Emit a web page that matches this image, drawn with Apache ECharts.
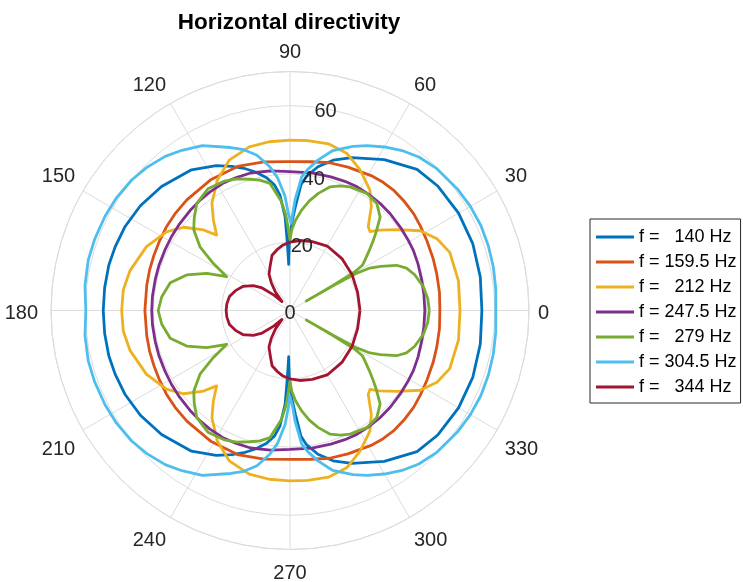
<!DOCTYPE html>
<html>
<head>
<meta charset="utf-8">
<script src="https://cdn.jsdelivr.net/npm/echarts@6/dist/echarts.min.js"></script>
<style>
  html, body { margin: 0; padding: 0; background: #fff; }
  #chart { width: 743px; height: 582px; }
</style>
</head>
<body>
<div id="chart"></div>
<script>
// Legend entries, one per frequency
const seriesNames = ['f =   140 Hz', 'f = 159.5 Hz', 'f =   212 Hz', 'f = 247.5 Hz',
                     'f =   279 Hz', 'f = 304.5 Hz', 'f =   344 Hz'];

// Radial ticks (level) and angular tick step (degrees)
const radialTicks = [0, 20, 40, 60];
const radialMax = 70;
const angleStep = 30;

// Directivity over the upper half plane (0..180 deg); the pattern is
// symmetric about the 0-180 axis, so the lower half reuses these values.
const ang140 = [0, 10, 20, 30, 40, 48, 58, 68, 74, 79, 83, 85, 87, 88.5, 89.5, 90.5, 91.2, 91.6, 92, 92.5, 93, 95, 97, 100, 104, 108, 112, 117, 125, 136, 145, 153, 160, 166, 173, 180];
const rad140 = [56.2, 56.6, 57, 57, 56.6, 55.6, 52.1, 48.3, 45.8, 42.9, 39.6, 37, 30.5, 26.5, 23, 20, 16, 13.5, 17, 22, 27.5, 34, 37, 39.5, 41.8, 43.8, 45.5, 47.6, 50.3, 52.3, 53.5, 54.2, 54.5, 54.7, 54.7, 54.7];

const ang159 = [0, 7, 14, 20, 27, 33, 38, 44, 49, 54, 59, 68, 75, 82, 90, 100, 110, 121, 133, 140, 146, 152, 158, 164, 170, 180];
const rad159 = [43.9, 44.1, 44.3, 44.6, 45, 45.5, 46, 46.3, 46.5, 46.4, 46.1, 45.3, 44.8, 44, 43.6, 44.2, 44.9, 44.8, 44.3, 44, 43.7, 43.3, 43, 42.8, 42.6, 42.5];

const ang212 = [0, 10, 20, 26, 31.5, 37, 42, 44.6, 47, 52, 56.5, 63.5, 70, 77, 84, 90, 97, 104, 112, 119, 126, 130.3, 134.2, 137, 142, 147.5, 156, 166, 173, 180];
const rad212 = [49.8, 50.1, 49.8, 47.9, 44.7, 39.4, 35.2, 32.9, 33.6, 38.7, 42.4, 46, 48.9, 50.1, 50, 49.9, 49.8, 49.4, 47.5, 43.8, 38.9, 34.7, 30.8, 34.6, 39.6, 42.9, 46, 48.3, 49.2, 49.3];

const ang247 = [0, 7, 13, 20, 26, 31, 37, 44, 50, 56, 62, 67, 73, 81, 90, 98, 106, 112, 118, 124, 129, 135, 142, 148, 154, 161, 167, 174, 180];
const rad247 = [39.5, 39.5, 39.6, 39.9, 40.2, 40.3, 40.5, 40.8, 41, 41.1, 41.2, 41.1, 40.9, 40.8, 40.7, 41.3, 41.9, 42, 42.1, 41.9, 41.7, 41.4, 41.1, 40.9, 40.7, 40.6, 40.5, 40.5, 40.5];

const ang279 = [0, 5, 10, 16, 20, 23, 26, 28, 29.3, 29.8, 30.1, 30.4, 30.8, 32, 34, 37, 40, 42, 46, 51, 56.8, 64, 68, 72, 76.4, 80, 83.4, 86.5, 88.8, 90, 91.2, 92.5, 94.5, 99, 103, 107, 112, 117, 124, 131, 136, 140, 144.7, 148.4, 151.9, 155.9, 161, 167, 174, 180];
const rad279 = [40.8, 40.5, 39.7, 38, 36.3, 33.9, 29.5, 26.5, 22, 15, 5.5, 15, 22, 25, 26.5, 29, 31.8, 33.8, 38, 40.4, 41, 40.3, 39.4, 38.1, 35.3, 32.6, 29.6, 26.5, 23.6, 20.7, 24, 28, 32, 37.7, 39.2, 40.2, 41.6, 42.5, 43, 41.6, 39, 36.8, 32.3, 26.4, 21, 26.7, 32, 36, 37.8, 38.6];

const ang304 = [0, 6, 12, 18, 24, 30, 36, 44, 50, 55, 60, 65, 69, 75, 79.5, 83, 85, 87.4, 88.5, 89.3, 90.2, 91, 92.5, 95.3, 98, 102, 106, 110, 118, 124, 129, 135, 140.5, 147, 153, 160, 166, 173, 180];
const rad304 = [60.3, 60.6, 60.9, 61.1, 61.2, 61, 60.6, 59.8, 58.7, 57.2, 55.3, 53.3, 51.5, 48.5, 44.8, 41.5, 39.3, 32.4, 28, 25.5, 25, 28.5, 33.5, 39, 42.5, 46.5, 49, 50.8, 54.7, 56.6, 58.1, 59.3, 60.1, 60.6, 60.8, 60.9, 60.9, 60.5, 59.8];

const ang344 = [0, 15, 30, 45, 60, 72, 82, 90, 96, 102, 108, 114, 120, 124, 128, 132, 136, 141, 146, 153, 160, 167, 174, 180];
const rad344 = [20.5, 20.5, 21, 21.5, 21.8, 21.2, 20.7, 20, 19.3, 18.2, 17, 14.3, 12.3, 9.8, 7, 3.5, 6.5, 10.5, 13, 15.5, 17, 18.2, 18.6, 18.7];

const seriesColors = ['#0072BD', '#D95319', '#EDB120', '#7E2F8E', '#77AC30', '#4DBEEE', '#A2142F'];

// Turn a half-plane pattern into a closed [radius, angle] loop (0 -> 360 deg)
function closedLoop(angles, radii) {
  const pts = angles.map((a, i) => [radii[i], a]);
  for (let i = angles.length - 2; i >= 0; i--) {
    pts.push([radii[i], 360 - angles[i]]);
  }
  return pts;
}

const patterns = [
  [ang140, rad140], [ang159, rad159], [ang212, rad212], [ang247, rad247],
  [ang279, rad279], [ang304, rad304], [ang344, rad344]
];

const FONT = '"Liberation Sans", Arial, Helvetica, sans-serif';
const GRID = '#dcdcdc';
const TEXT = '#262626';
const CENTER = [290, 310.5];
const RADIUS = 239;

const labelBase = { fontFamily: FONT, fontSize: 20, color: TEXT };
const withPad = pad => Object.assign({}, labelBase, { padding: pad });

// Angle labels: nudge a few so they sit like the usual polar-plot layout
function angleLabel(v) {
  if (v >= 360) return '';
  if (v === 0) return '{md|0}';
  if (v === 180) return '{lf|' + v + '}';
  if (v > 180) return '{dn|' + v + '}';
  return String(v);
}

const chart = echarts.init(document.getElementById('chart'), null, { renderer: 'canvas' });

chart.setOption({
  animation: false,
  backgroundColor: '#ffffff',
  textStyle: { fontFamily: FONT },
  title: {
    text: 'Horizontal directivity',
    left: 284,
    top: 6,
    textAlign: 'center',
    textStyle: { fontFamily: FONT, fontSize: 22.5, fontWeight: 'bold', color: '#000' }
  },
  legend: {
    orient: 'vertical',
    left: 590,
    top: 219,
    padding: [9, 4, 7, 6],
    itemGap: 7,
    itemWidth: 38,
    itemHeight: 3,
    icon: 'rect',
    borderColor: TEXT,
    borderWidth: 1,
    backgroundColor: '#fff',
    textStyle: { fontFamily: FONT, fontSize: 18, color: '#000' },
    data: seriesNames
  },
  polar: [
    { center: CENTER, radius: RADIUS },
    { center: CENTER, radius: RADIUS }
  ],
  angleAxis: [
    {
      polarIndex: 0,
      type: 'value',
      min: 0,
      max: 360,
      interval: angleStep,
      startAngle: 0,
      clockwise: false,
      axisLine: { lineStyle: { color: GRID, width: 1 } },
      axisTick: { show: false },
      splitLine: { lineStyle: { color: GRID, width: 1 } },
      axisLabel: Object.assign({}, labelBase, {
        margin: 9,
        formatter: angleLabel,
        rich: {
          md: withPad([5, 0, 0, 0]),
          dn: withPad([5, 0, 0, 0]),
          lf: withPad([5, 4, 0, 0])
        }
      })
    },
    {
      // second frame only carries the radial labels, placed along 80 deg
      polarIndex: 1,
      type: 'value',
      min: 0,
      max: 360,
      startAngle: 80,
      clockwise: false,
      show: false
    }
  ],
  radiusAxis: [
    {
      polarIndex: 0,
      type: 'value',
      min: radialTicks[0],
      max: radialMax,
      interval: radialTicks[1] - radialTicks[0],
      axisLine: { show: false },
      axisTick: { show: false },
      axisLabel: { show: false },
      splitLine: { lineStyle: { color: GRID, width: 1 } }
    },
    {
      polarIndex: 1,
      type: 'value',
      min: radialTicks[0],
      max: radialMax,
      interval: radialTicks[1] - radialTicks[0],
      z: 10,
      axisLine: { show: false },
      axisTick: { show: false },
      splitLine: { show: false },
      axisLabel: Object.assign({}, labelBase, {
        margin: 0,
        align: 'center',
        verticalAlign: 'middle',
        showMaxLabel: false,
        formatter: v => (radialTicks.indexOf(v) >= 0 ? '{rl|' + v + '}' : ''),
        rich: { rl: withPad([6, 0, 0, 0]) }
      })
    }
  ],
  series: patterns.map((p, i) => ({
    type: 'line',
    name: seriesNames[i],
    coordinateSystem: 'polar',
    polarIndex: 0,
    data: closedLoop(p[0], p[1]),
    showSymbol: false,
    symbol: 'none',
    smooth: false,
    clip: false,
    lineStyle: { width: 2.8, color: seriesColors[i], join: 'round' },
    itemStyle: { color: seriesColors[i] },
    emphasis: { disabled: true }
  }))
});
</script>
</body>
</html>
